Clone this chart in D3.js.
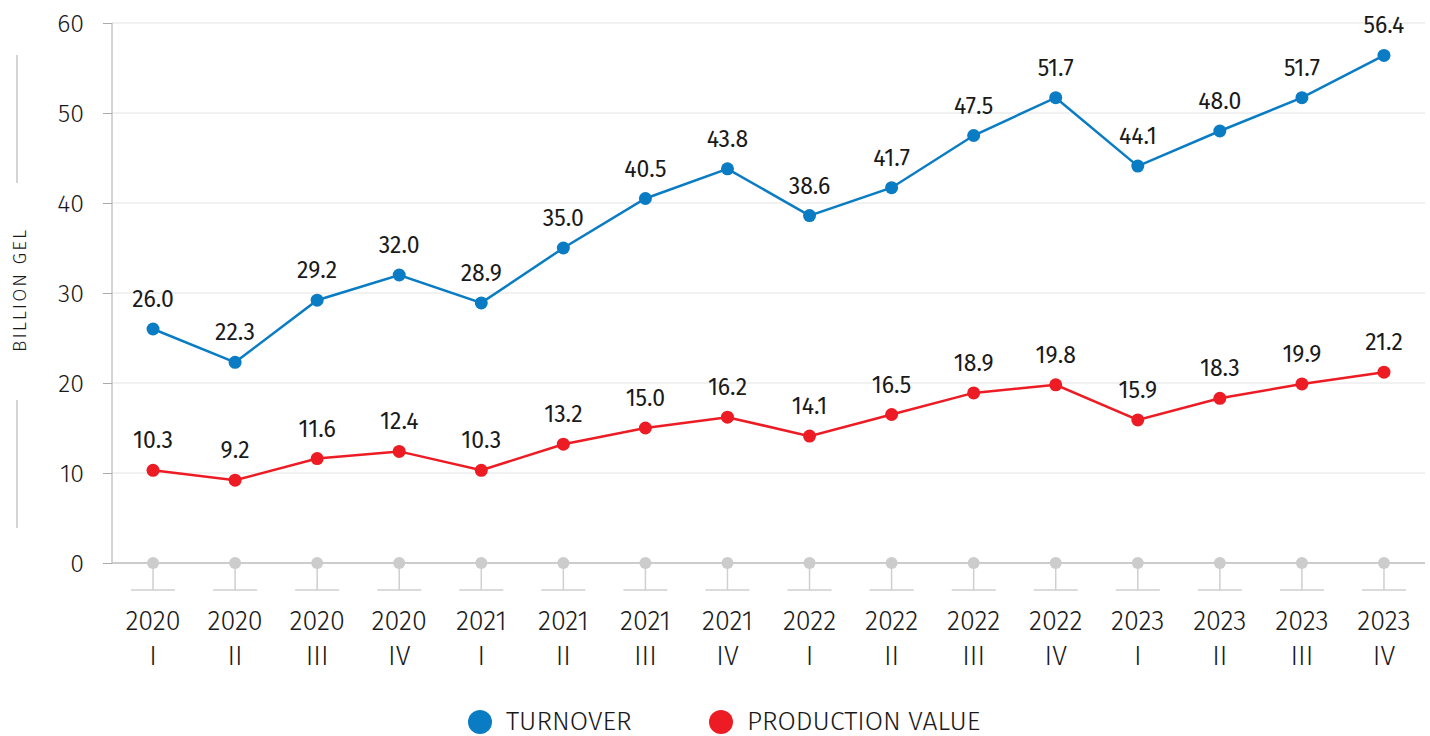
<!DOCTYPE html>
<html>
<head>
<meta charset="utf-8">
<script src="https://cdn.jsdelivr.net/npm/d3@7"></script>
<style>
  html, body { margin: 0; padding: 0; background: #fff; }
  svg text { font-family: "Fira Sans", "Noto Sans", "Open Sans", sans-serif; fill: #1a1a1a; }
</style>
</head>
<body>
<div id="chart"></div>
<script>
const years = ['2020', '2020', '2020', '2020', '2021', '2021', '2021', '2021',
  '2022', '2022', '2022', '2022', '2023', '2023', '2023', '2023'];
const quarters = ['I', 'II', 'III', 'IV', 'I', 'II', 'III', 'IV',
  'I', 'II', 'III', 'IV', 'I', 'II', 'III', 'IV'];
const turnover = [26.0, 22.3, 29.2, 32.0, 28.9, 35.0, 40.5, 43.8,
  38.6, 41.7, 47.5, 51.7, 44.1, 48.0, 51.7, 56.4];
const production = [10.3, 9.2, 11.6, 12.4, 10.3, 13.2, 15.0, 16.2,
  14.1, 16.5, 18.9, 19.8, 15.9, 18.3, 19.9, 21.2];
const yTicks = [0, 10, 20, 30, 40, 50, 60];

const series = [
  { name: 'TURNOVER', values: turnover, color: '#0a7cc4' },
  { name: 'PRODUCTION VALUE', values: production, color: '#ed1c24' }
];

const W = 1430, H = 736;
const margin = { top: 23, right: 5, bottom: 173, left: 112 };
const width = W - margin.left - margin.right;
const height = H - margin.top - margin.bottom;

const svg = d3.select('#chart').append('svg')
  .attr('width', W)
  .attr('height', H);

const idx = d3.range(years.length);
const x = d3.scaleBand().domain(idx).range([0, width]);
const y = d3.scaleLinear().domain([0, 60]).range([height, 0]);
const cx = i => x(i) + x.bandwidth() / 2;

const g = svg.append('g').attr('transform', `translate(${margin.left},${margin.top})`);

// gridlines
g.append('g').selectAll('line')
  .data(yTicks.filter(t => t > 0))
  .join('line')
  .attr('x1', 0).attr('x2', width)
  .attr('y1', d => y(d)).attr('y2', d => y(d))
  .attr('stroke', '#e3e3e3').attr('stroke-width', 1);

// y axis
const yAxis = g.append('g')
  .call(d3.axisLeft(y).tickValues(yTicks).tickSize(9).tickPadding(19));
yAxis.select('.domain').attr('stroke', '#aaa').attr('d', `M0,${height}V0`);
yAxis.selectAll('.tick line').attr('stroke', '#aaa');
yAxis.selectAll('.tick text')
  .attr('font-size', 25).attr('font-weight', 300)
  .attr('fill', '#1a1a1a').attr('font-family', '"Fira Sans", "Noto Sans", sans-serif');

// baseline
g.append('line')
  .attr('x1', 0).attr('x2', width)
  .attr('y1', y(0)).attr('y2', y(0))
  .attr('stroke', '#bbb').attr('stroke-width', 1.5);

// x axis markers: stems, feet, gray dots
const xm = g.append('g');
xm.selectAll('.stem').data(idx).join('line')
  .attr('x1', cx).attr('x2', cx)
  .attr('y1', y(0)).attr('y2', y(0) + 27)
  .attr('stroke', '#cfcfcf').attr('stroke-width', 1.5);
xm.selectAll('.foot').data(idx).join('line')
  .attr('x1', i => cx(i) - 22).attr('x2', i => cx(i) + 22)
  .attr('y1', y(0) + 27).attr('y2', y(0) + 27)
  .attr('stroke', '#cfcfcf').attr('stroke-width', 1.5);
xm.selectAll('circle').data(idx).join('circle')
  .attr('cx', cx).attr('cy', y(0)).attr('r', 6)
  .attr('fill', '#cccccc');

// x labels
const xl = g.append('g').attr('font-size', 27).attr('font-weight', 300).attr('text-anchor', 'middle');
xl.selectAll('.yr').data(idx).join('text')
  .attr('x', cx).attr('y', y(0) + 67).text(i => years[i]);
xl.selectAll('.q').data(idx).join('text')
  .attr('x', cx).attr('y', y(0) + 102).text(i => quarters[i]);

// lines and points
const line = d3.line().x((d, i) => cx(i)).y(d => y(d));
series.forEach(s => {
  g.append('path')
    .datum(s.values)
    .attr('d', line)
    .attr('fill', 'none')
    .attr('stroke', s.color)
    .attr('stroke-width', 2.5);
  g.append('g').selectAll('circle').data(s.values).join('circle')
    .attr('cx', (d, i) => cx(i)).attr('cy', d => y(d)).attr('r', 6.5)
    .attr('fill', s.color);
  g.append('g').selectAll('text').data(s.values).join('text')
    .attr('x', (d, i) => cx(i)).attr('y', d => y(d) - 22)
    .attr('text-anchor', 'middle').attr('font-size', 23).attr('font-weight', 400)
    .attr('fill', '#111')
    .text(d => d.toFixed(1));
});

// y title with side rules
svg.append('text')
  .attr('transform', 'translate(26,290) rotate(-90)')
  .attr('text-anchor', 'middle')
  .attr('font-size', 19).attr('letter-spacing', 2).attr('font-weight', 300)
  .text('BILLION GEL');
svg.append('line').attr('x1', 17).attr('x2', 17).attr('y1', 55).attr('y2', 183)
  .attr('stroke', '#aaa');
svg.append('line').attr('x1', 17).attr('x2', 17).attr('y1', 400).attr('y2', 528)
  .attr('stroke', '#aaa');

// legend
const legendX = [480, 721];
const legend = svg.append('g');
series.forEach((s, i) => {
  legend.append('circle').attr('cx', legendX[i]).attr('cy', 722).attr('r', 12).attr('fill', s.color);
  legend.append('text').attr('x', legendX[i] + 26).attr('y', 730)
    .attr('font-size', 26.5).attr('font-weight', 300).text(s.name);
});
</script>
</body>
</html>
